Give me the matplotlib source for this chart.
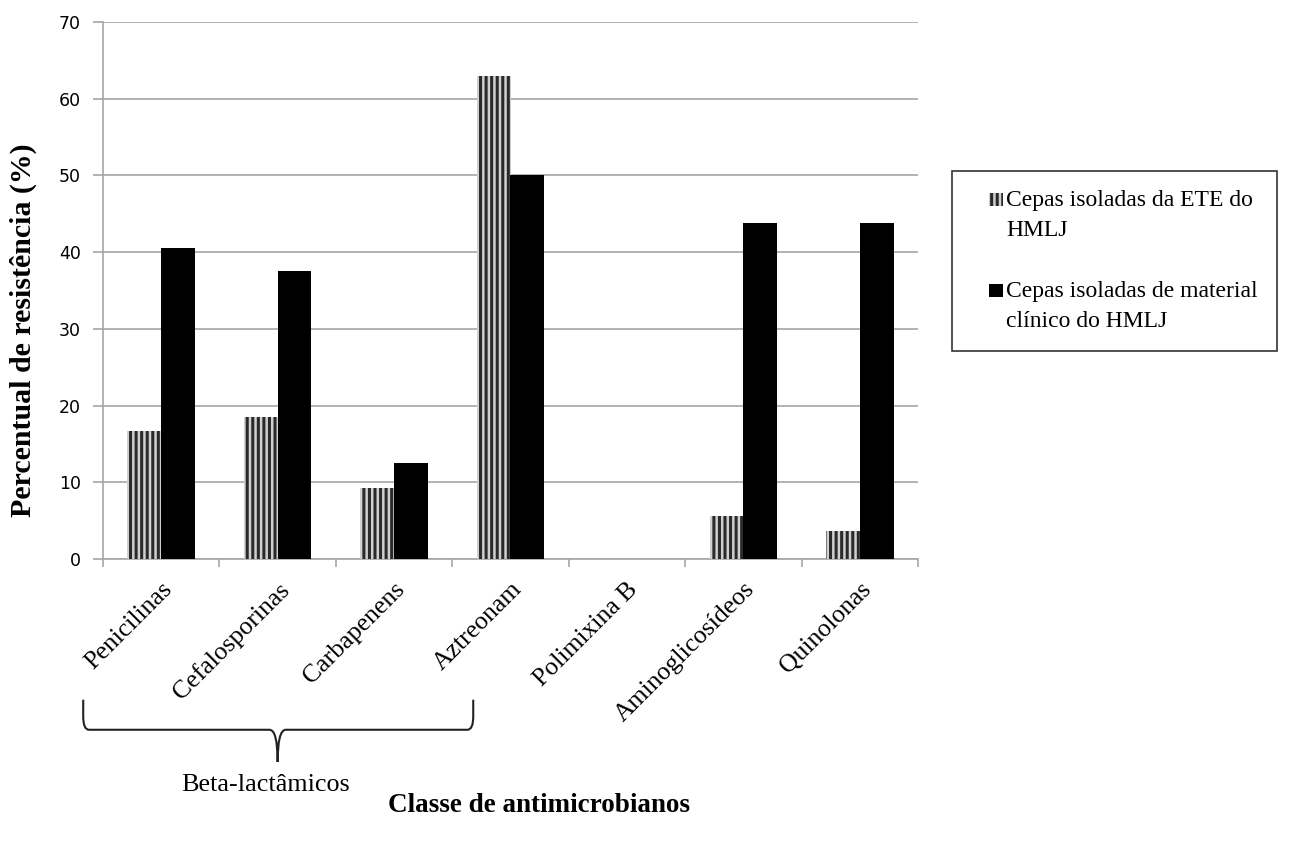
import numpy as np
import matplotlib.pyplot as plt
from matplotlib.path import Path
from matplotlib.patches import PathPatch, Patch, Rectangle
from matplotlib.legend_handler import HandlerPatch
import matplotlib.transforms as mtransforms

# dados
classes = ["Penicilinas", "Cefalosporinas", "Carbapenens", "Aztreonam",
           "Polimixina B", "Aminoglicosídeos", "Quinolonas"]
ete = [16.7, 18.5, 9.3, 63.0, 0.0, 5.6, 3.7]
clinico = [40.6, 37.5, 12.5, 50.0, 0.0, 43.8, 43.8]
label_ete = "Cepas isoladas da ETE do\nHMLJ"
label_clin = "Cepas isoladas de material\nclínico do HMLJ"
grupo = "Beta-lactâmicos"

plt.rcParams['hatch.linewidth'] = 2.2
serif = ['Liberation Serif', 'DejaVu Serif']

fig = plt.figure(figsize=(12.92, 8.44), dpi=100)
ax = fig.add_axes([103/1292, 1-559/844, (918-103)/1292, (559-22)/844])

x = np.arange(len(classes))
w = 0.29
ax.bar(x - w/2, ete, w, color='#d0d0d0', edgecolor='#2a2a2a', hatch='|||',
       linewidth=0, zorder=3)
ax.bar(x + w/2, clinico, w, color='black', linewidth=0, zorder=3)

ax.set_xlim(-0.5, len(classes) - 0.5)
ax.set_ylim(0, 70)
ax.set_yticks(range(0, 71, 10))
ax.yaxis.grid(True, color='#a6a6a6', linewidth=1.2, zorder=0)
for s in ['top', 'right']:
    ax.spines[s].set_visible(False)
for s in ['left', 'bottom']:
    ax.spines[s].set_color('#a6a6a6')
    ax.spines[s].set_linewidth(1.2)

ax.set_xticks(x)
ax.set_xticklabels(classes, rotation=45, ha='right', rotation_mode='anchor',
                   family=serif, fontsize=18.5)
ax.set_xticks(np.arange(-0.5, len(classes)), minor=True)
ax.tick_params(axis='x', which='major', length=0, pad=14)
ax.tick_params(axis='x', which='minor', length=6, color='#a6a6a6', width=1.2)
ax.tick_params(axis='y', length=7, color='#a6a6a6', width=1.2, labelsize=12.5,
               pad=9)

# chave dos beta-lactamicos
trans = mtransforms.blended_transform_factory(ax.transData, ax.transAxes)
x0, x1, xc = -0.67, 2.68, 1.0
yt, ym, yb = -0.262, -0.318, -0.378
verts = [(x0, yt), (x0, ym + 0.025), (x0, ym), (x0 + 0.05, ym),
         (xc - 0.07, ym), (xc, ym), (xc, yb),
         (xc, yb), (xc, ym), (xc + 0.07, ym),
         (x1 - 0.05, ym), (x1, ym), (x1, ym + 0.025), (x1, yt)]
codes = [Path.MOVETO, Path.LINETO, Path.CURVE3, Path.CURVE3,
         Path.LINETO, Path.CURVE3, Path.CURVE3,
         Path.MOVETO, Path.CURVE3, Path.CURVE3,
         Path.LINETO, Path.CURVE3, Path.CURVE3, Path.LINETO]
ax.add_patch(PathPatch(Path(verts, codes), transform=trans, fill=False,
                       edgecolor='#222222', linewidth=1.5, clip_on=False))
ax.text(0.9, -0.42, grupo, transform=trans, ha='center', va='center',
        family=serif, fontsize=18.8)

fig.text(539/1292, 1-806/844, "Classe de antimicrobianos", ha='center',
         va='center', family=serif, fontsize=19.5, fontweight='bold')
fig.text(23/1292, 1-330/844, "Percentual de resistência (%)", ha='center',
         va='center', rotation=90, family=serif, fontsize=21.5, fontweight='bold')


def small_square(legend, orig_handle, xdescent, ydescent, width, height, fontsize):
    s = height * 0.9
    return Rectangle((width - s - xdescent, height / 2 - s / 2 - ydescent + 0.65 * fontsize),
                     s, s)


handles = [Patch(facecolor='#d0d0d0', edgecolor='#2a2a2a', hatch='|||', linewidth=0),
           Patch(facecolor='black', linewidth=0)]
leg = fig.legend(handles, [label_ete, label_clin], loc='upper left',
                 bbox_to_anchor=(952/1292, 1-171/844), frameon=True,
                 fancybox=False, prop={'family': serif, 'size': 17},
                 handlelength=1.35, handleheight=0.6, handletextpad=0.15,
                 labelspacing=1.7, borderpad=0.8, borderaxespad=0,
                 handler_map={Patch: HandlerPatch(patch_func=small_square)})
for t in leg.get_texts():
    t.set_linespacing(1.55)
leg.get_frame().set_edgecolor('black')
leg.get_frame().set_linewidth(1.2)

fig.savefig("out.png", dpi=100)
